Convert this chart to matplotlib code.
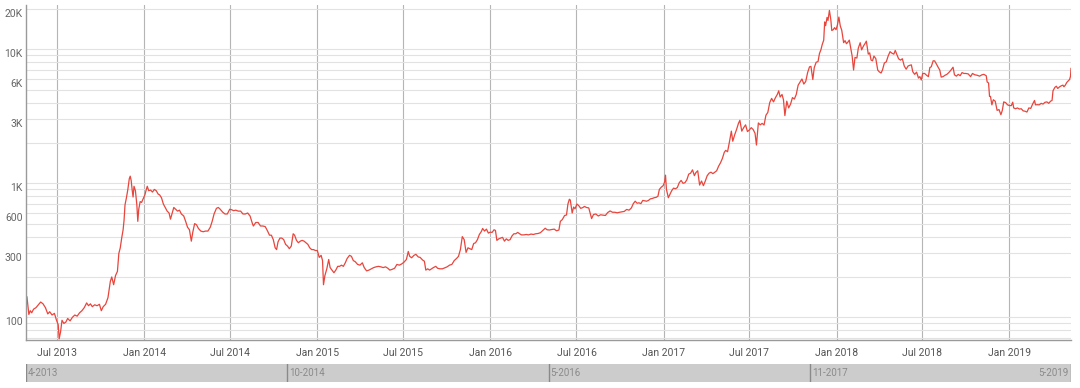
import numpy as np
import pandas as pd
import matplotlib
matplotlib.use("Agg")
import matplotlib.pyplot as plt
import matplotlib.dates as mdates
from matplotlib.ticker import FixedLocator, LogLocator, NullFormatter

plt.rcParams['font.family'] = ['Roboto', 'DejaVu Sans']

# price (USD, log scale)
dates = [
    "2013-04-28", "2013-05-02", "2013-05-05", "2013-05-08", "2013-05-12", "2013-05-17", "2013-05-22", "2013-05-27",
    "2013-06-01", "2013-06-06", "2013-06-11", "2013-06-15", "2013-06-20", "2013-06-25", "2013-06-29", "2013-07-03",
    "2013-07-05", "2013-07-08", "2013-07-11", "2013-07-15", "2013-07-19", "2013-07-23", "2013-07-28", "2013-08-02",
    "2013-08-07", "2013-08-12", "2013-08-17", "2013-08-22", "2013-08-27", "2013-09-01", "2013-09-05", "2013-09-09",
    "2013-09-13", "2013-09-18", "2013-09-23", "2013-09-28", "2013-10-02", "2013-10-06", "2013-10-11", "2013-10-16",
    "2013-10-21", "2013-10-24", "2013-10-28", "2013-11-01", "2013-11-05", "2013-11-08", "2013-11-11", "2013-11-14",
    "2013-11-17", "2013-11-19", "2013-11-21", "2013-11-24", "2013-11-27", "2013-11-30", "2013-12-02", "2013-12-04",
    "2013-12-06", "2013-12-08", "2013-12-10", "2013-12-13", "2013-12-16", "2013-12-18", "2013-12-20", "2013-12-23",
    "2013-12-26", "2013-12-29", "2014-01-02", "2014-01-05", "2014-01-07", "2014-01-10", "2014-01-14", "2014-01-18",
    "2014-01-22", "2014-01-26", "2014-01-30", "2014-02-02", "2014-02-06", "2014-02-10", "2014-02-14", "2014-02-18",
    "2014-02-22", "2014-02-25", "2014-02-28", "2014-03-04", "2014-03-08", "2014-03-12", "2014-03-16", "2014-03-20",
    "2014-03-25", "2014-03-29", "2014-04-02", "2014-04-06", "2014-04-10", "2014-04-13", "2014-04-17", "2014-04-21",
    "2014-04-25", "2014-04-30", "2014-05-05", "2014-05-10", "2014-05-15", "2014-05-20", "2014-05-24", "2014-05-28",
    "2014-06-02", "2014-06-06", "2014-06-10", "2014-06-15", "2014-06-20", "2014-06-25", "2014-06-30", "2014-07-04",
    "2014-07-08", "2014-07-13", "2014-07-18", "2014-07-23", "2014-07-28", "2014-08-02", "2014-08-07", "2014-08-12",
    "2014-08-17", "2014-08-19", "2014-08-24", "2014-08-29", "2014-09-03", "2014-09-08", "2014-09-13", "2014-09-18",
    "2014-09-22", "2014-09-26", "2014-09-30", "2014-10-04", "2014-10-07", "2014-10-10", "2014-10-14", "2014-10-18",
    "2014-10-22", "2014-10-26", "2014-10-30", "2014-11-03", "2014-11-07", "2014-11-11", "2014-11-14", "2014-11-18",
    "2014-11-22", "2014-11-26", "2014-11-30", "2014-12-04", "2014-12-08", "2014-12-12", "2014-12-16", "2014-12-20",
    "2014-12-24", "2014-12-28", "2015-01-01", "2015-01-05", "2015-01-09", "2015-01-12", "2015-01-14", "2015-01-17",
    "2015-01-21", "2015-01-25", "2015-01-28", "2015-02-01", "2015-02-05", "2015-02-09", "2015-02-13", "2015-02-17",
    "2015-02-21", "2015-02-25", "2015-03-01", "2015-03-05", "2015-03-10", "2015-03-14", "2015-03-18", "2015-03-22",
    "2015-03-27", "2015-04-01", "2015-04-06", "2015-04-10", "2015-04-15", "2015-04-20", "2015-04-25", "2015-04-30",
    "2015-05-05", "2015-05-10", "2015-05-15", "2015-05-20", "2015-05-25", "2015-05-30", "2015-06-03", "2015-06-08",
    "2015-06-13", "2015-06-18", "2015-06-23", "2015-06-28", "2015-07-03", "2015-07-08", "2015-07-12", "2015-07-15",
    "2015-07-19", "2015-07-24", "2015-07-28", "2015-08-02", "2015-08-06", "2015-08-11", "2015-08-15", "2015-08-18",
    "2015-08-22", "2015-08-26", "2015-08-30", "2015-09-03", "2015-09-08", "2015-09-12", "2015-09-17", "2015-09-22",
    "2015-09-27", "2015-10-02", "2015-10-07", "2015-10-12", "2015-10-17", "2015-10-22", "2015-10-26", "2015-10-30",
    "2015-11-03", "2015-11-05", "2015-11-07", "2015-11-11", "2015-11-15", "2015-11-19", "2015-11-23", "2015-11-27",
    "2015-12-01", "2015-12-05", "2015-12-09", "2015-12-13", "2015-12-16", "2015-12-20", "2015-12-24", "2015-12-28",
    "2016-01-01", "2016-01-05", "2016-01-09", "2016-01-12", "2016-01-15", "2016-01-19", "2016-01-23", "2016-01-27",
    "2016-01-31", "2016-02-04", "2016-02-08", "2016-02-12", "2016-02-16", "2016-02-20", "2016-02-24", "2016-02-28",
    "2016-03-03", "2016-03-07", "2016-03-12", "2016-03-17", "2016-03-22", "2016-03-27", "2016-04-01", "2016-04-06",
    "2016-04-11", "2016-04-16", "2016-04-21", "2016-04-26", "2016-04-30", "2016-05-05", "2016-05-10", "2016-05-15",
    "2016-05-20", "2016-05-25", "2016-05-28", "2016-06-01", "2016-06-06", "2016-06-10", "2016-06-13", "2016-06-16",
    "2016-06-18", "2016-06-20", "2016-06-22", "2016-06-25", "2016-06-28", "2016-07-02", "2016-07-06", "2016-07-10",
    "2016-07-14", "2016-07-18", "2016-07-22", "2016-07-27", "2016-08-02", "2016-08-06", "2016-08-11", "2016-08-16",
    "2016-08-21", "2016-08-26", "2016-08-31", "2016-09-05", "2016-09-10", "2016-09-15", "2016-09-20", "2016-09-25",
    "2016-09-30", "2016-10-05", "2016-10-10", "2016-10-15", "2016-10-20", "2016-10-25", "2016-10-29", "2016-11-02",
    "2016-11-06", "2016-11-10", "2016-11-14", "2016-11-18", "2016-11-22", "2016-11-26", "2016-11-30", "2016-12-04",
    "2016-12-08", "2016-12-12", "2016-12-16", "2016-12-20", "2016-12-23", "2016-12-27", "2016-12-31", "2017-01-03",
    "2017-01-05", "2017-01-07", "2017-01-11", "2017-01-14", "2017-01-18", "2017-01-22", "2017-01-26", "2017-01-30",
    "2017-02-03", "2017-02-07", "2017-02-11", "2017-02-15", "2017-02-19", "2017-02-23", "2017-02-27", "2017-03-03",
    "2017-03-07", "2017-03-10", "2017-03-14", "2017-03-18", "2017-03-22", "2017-03-26", "2017-03-30", "2017-04-03",
    "2017-04-07", "2017-04-11", "2017-04-15", "2017-04-19", "2017-04-23", "2017-04-27", "2017-05-01", "2017-05-05",
    "2017-05-09", "2017-05-12", "2017-05-16", "2017-05-20", "2017-05-24", "2017-05-27", "2017-05-31", "2017-06-04",
    "2017-06-08", "2017-06-11", "2017-06-15", "2017-06-19", "2017-06-23", "2017-06-27", "2017-07-01", "2017-07-05",
    "2017-07-09", "2017-07-13", "2017-07-16", "2017-07-20", "2017-07-24", "2017-07-28", "2017-08-01", "2017-08-05",
    "2017-08-09", "2017-08-13", "2017-08-17", "2017-08-21", "2017-08-25", "2017-08-29", "2017-09-01", "2017-09-04",
    "2017-09-08", "2017-09-11", "2017-09-14", "2017-09-18", "2017-09-22", "2017-09-26", "2017-09-30", "2017-10-04",
    "2017-10-08", "2017-10-12", "2017-10-16", "2017-10-20", "2017-10-24", "2017-10-28", "2017-11-01", "2017-11-05",
    "2017-11-08", "2017-11-12", "2017-11-15", "2017-11-19", "2017-11-23", "2017-11-26", "2017-11-29", "2017-12-02",
    "2017-12-05", "2017-12-07", "2017-12-09", "2017-12-12", "2017-12-14", "2017-12-17", "2017-12-20", "2017-12-22",
    "2017-12-25", "2017-12-28", "2017-12-31", "2018-01-03", "2018-01-06", "2018-01-09", "2018-01-12", "2018-01-16",
    "2018-01-19", "2018-01-22", "2018-01-25", "2018-01-28", "2018-01-31", "2018-02-03", "2018-02-06", "2018-02-09",
    "2018-02-13", "2018-02-16", "2018-02-20", "2018-02-23", "2018-02-27", "2018-03-02", "2018-03-05", "2018-03-09",
    "2018-03-12", "2018-03-15", "2018-03-18", "2018-03-21", "2018-03-25", "2018-03-29", "2018-04-01", "2018-04-05",
    "2018-04-08", "2018-04-12", "2018-04-16", "2018-04-20", "2018-04-24", "2018-04-28", "2018-05-02", "2018-05-05",
    "2018-05-08", "2018-05-12", "2018-05-16", "2018-05-20", "2018-05-24", "2018-05-28", "2018-06-01", "2018-06-05",
    "2018-06-08", "2018-06-11", "2018-06-15", "2018-06-19", "2018-06-23", "2018-06-26", "2018-06-29", "2018-07-02",
    "2018-07-06", "2018-07-10", "2018-07-14", "2018-07-17", "2018-07-20", "2018-07-24", "2018-07-27", "2018-07-31",
    "2018-08-03", "2018-08-07", "2018-08-10", "2018-08-14", "2018-08-18", "2018-08-22", "2018-08-26", "2018-08-30",
    "2018-09-04", "2018-09-07", "2018-09-11", "2018-09-15", "2018-09-19", "2018-09-23", "2018-09-27", "2018-10-01",
    "2018-10-06", "2018-10-11", "2018-10-15", "2018-10-20", "2018-10-25", "2018-10-30", "2018-11-04", "2018-11-08",
    "2018-11-13", "2018-11-15", "2018-11-18", "2018-11-20", "2018-11-22", "2018-11-25", "2018-11-28", "2018-12-02",
    "2018-12-06", "2018-12-10", "2018-12-14", "2018-12-17", "2018-12-20", "2018-12-24", "2018-12-28", "2019-01-01",
    "2019-01-05", "2019-01-08", "2019-01-10", "2019-01-14", "2019-01-18", "2019-01-22", "2019-01-26", "2019-01-30",
    "2019-02-03", "2019-02-07", "2019-02-11", "2019-02-15", "2019-02-19", "2019-02-23", "2019-02-25", "2019-03-01",
    "2019-03-05", "2019-03-09", "2019-03-13", "2019-03-17", "2019-03-21", "2019-03-25", "2019-03-29", "2019-04-01",
    "2019-04-03", "2019-04-07", "2019-04-10", "2019-04-13", "2019-04-17", "2019-04-21", "2019-04-24", "2019-04-26",
    "2019-04-29", "2019-05-02", "2019-05-05", "2019-05-08", "2019-05-10", "2019-05-11",
]
prices = [
    142, 105, 112, 108, 115, 118, 124, 130,
    126, 118, 106, 110, 104, 107, 96, 88,
    69, 78, 95, 90, 92, 98, 94, 100,
    104, 102, 108, 112, 118, 128, 122, 126,
    120, 124, 122, 125, 112, 120, 125, 140,
    185, 200, 175, 205, 220, 300, 330, 390,
    450, 530, 690, 780, 900, 1080, 1130, 1050,
    900, 790, 950, 880, 690, 520, 640, 730,
    720, 760, 820, 900, 950, 880, 890, 860,
    900, 880, 830, 820, 780, 700, 660, 620,
    600, 540, 590, 660, 640, 620, 630, 590,
    570, 520, 470, 450, 370, 430, 500, 490,
    460, 440, 435, 440, 440, 470, 520, 590,
    650, 660, 640, 610, 590, 590, 640, 635,
    625, 630, 620, 620, 590, 590, 600, 570,
    500, 480, 510, 510, 480, 480, 475, 440,
    410, 410, 380, 330, 320, 365, 390, 390,
    380, 350, 340, 325, 340, 420, 410, 375,
    360, 370, 375, 370, 360, 350, 330, 320,
    320, 315, 315, 280, 290, 265, 175, 205,
    230, 270, 235, 225, 215, 225, 240, 240,
    245, 240, 255, 275, 290, 285, 265, 260,
    248, 245, 255, 235, 222, 225, 230, 235,
    238, 240, 238, 235, 238, 232, 225, 228,
    232, 248, 245, 250, 258, 270, 310, 285,
    278, 290, 295, 282, 280, 268, 262, 225,
    230, 225, 230, 235, 240, 232, 230, 230,
    234, 238, 245, 248, 265, 275, 285, 320,
    400, 390, 380, 305, 330, 325, 320, 355,
    360, 380, 415, 435, 460, 440, 455, 425,
    432, 430, 450, 445, 375, 385, 390, 395,
    370, 385, 375, 380, 405, 420, 420, 430,
    420, 412, 412, 415, 412, 418, 415, 420,
    422, 428, 445, 462, 450, 448, 452, 455,
    442, 448, 520, 535, 575, 580, 700, 760,
    750, 670, 600, 665, 645, 700, 680, 650,
    658, 672, 660, 655, 545, 585, 590, 570,
    582, 578, 575, 605, 622, 608, 608, 602,
    608, 612, 617, 638, 630, 655, 705, 735,
    710, 715, 705, 745, 740, 735, 745, 765,
    770, 780, 785, 800, 900, 935, 960, 1020,
    1150, 900, 780, 820, 880, 920, 910, 930,
    1010, 1050, 1000, 1010, 1060, 1170, 1190, 1260,
    1140, 1200, 1240, 970, 1040, 960, 1040, 1140,
    1190, 1210, 1180, 1210, 1240, 1340, 1420, 1530,
    1700, 1760, 1720, 2040, 2450, 2060, 2300, 2520,
    2800, 2950, 2450, 2600, 2730, 2430, 2500, 2600,
    2520, 2360, 1930, 2820, 2730, 2800, 2720, 3220,
    3380, 4000, 4300, 4050, 4350, 4600, 4900, 4400,
    4600, 4200, 3200, 4100, 3650, 3900, 4360, 4250,
    4600, 5400, 5700, 6000, 5500, 5750, 6700, 7400,
    7450, 5950, 7300, 8000, 8100, 9300, 9900, 10900,
    11700, 16000, 15000, 17300, 16400, 19500, 16600, 13800,
    14000, 14500, 14000, 15200, 17400, 14900, 13900, 11200,
    11600, 11000, 11300, 11700, 10200, 8900, 7000, 8700,
    8600, 10200, 11200, 9900, 10600, 11000, 11500, 9200,
    9400, 8300, 8200, 8900, 8500, 7000, 6800, 6650,
    7000, 7900, 8050, 8900, 9600, 9350, 9200, 9800,
    9200, 8500, 8300, 8500, 7500, 7100, 7500, 7600,
    7650, 6800, 6500, 6750, 6100, 6250, 5900, 6600,
    6600, 6400, 6250, 7300, 7400, 8200, 8200, 7750,
    7400, 7000, 6200, 6250, 6400, 6500, 6700, 6950,
    7350, 6450, 6300, 6500, 6350, 6700, 6600, 6600,
    6550, 6250, 6600, 6450, 6400, 6300, 6450, 6500,
    6350, 5700, 5600, 4450, 4450, 3850, 4200, 4100,
    3500, 3550, 3250, 3500, 4050, 4000, 3850, 3800,
    3800, 4030, 3650, 3600, 3650, 3580, 3600, 3470,
    3450, 3400, 3650, 3620, 3900, 4150, 3850, 3860,
    3850, 3950, 3900, 4020, 4050, 3950, 4100, 4150,
    4900, 5200, 5300, 5100, 5250, 5350, 5400, 5250,
    5400, 5650, 5800, 5950, 6300, 7200,
]

y_ticks = [100, 300, 600, 1000, 3000, 6000, 10000, 20000]
y_labels = ["100", "300", "600", "1K", "3K", "6K", "10K", "20K"]
nav_labels = ["4-2013", "10-2014", "5-2016", "11-2017", "5-2019"]

df = pd.DataFrame({"date": pd.to_datetime(dates), "price": prices})

W, H = 1080, 388
fig = plt.figure(figsize=(W / 100, H / 100), dpi=100)
ax = fig.add_axes([26 / W, 1 - 340 / H, 1045 / W, 335 / H])

ax.plot(df["date"], df["price"], color="#e8453c", lw=0.9)

ax.set_yscale("log")
ax.set_ylim(67.7, 21400)
ax.set_xlim(pd.Timestamp("2013-04-26"), pd.Timestamp("2019-05-11"))

# y grid: every 1..9 multiple, labels drawn by hand a little below the line
ax.yaxis.set_major_locator(FixedLocator(y_ticks))
ax.yaxis.set_minor_locator(LogLocator(base=10, subs=np.arange(1, 10)))
ax.yaxis.set_major_formatter(NullFormatter())
ax.yaxis.set_minor_formatter(NullFormatter())
ax.grid(which="both", axis="y", color="#e2e2e2", lw=0.8)
for v, lab in zip(y_ticks, y_labels):
    ax.annotate(lab, xy=(0, v), xycoords=("axes fraction", "data"),
                xytext=(-2.5, -3.6), textcoords="offset points",
                ha="right", va="center", fontsize=7.5, color="#666666")

ax.xaxis.set_major_locator(mdates.MonthLocator(bymonth=[1, 7]))
ax.xaxis.set_major_formatter(mdates.DateFormatter("%b %Y"))
ax.grid(which="major", axis="x", color="#b5b5b5", lw=0.8)
ax.tick_params(axis="both", which="both", length=0)
ax.tick_params(axis="x", pad=6, labelsize=7.5, labelcolor="#555555")
ax.set_axisbelow(True)

for s in ["top", "right"]:
    ax.spines[s].set_visible(False)
for s in ["left", "bottom"]:
    ax.spines[s].set_color("#9a9a9a")
    ax.spines[s].set_linewidth(1.0)

# range navigator strip
nav = fig.add_axes([26 / W, 1 - 382 / H, 1045 / W, 18 / H])
nav.set_facecolor("#cccccc")
nav.set_xlim(0, 1)
nav.set_ylim(0, 1)
nav.set_xticks([])
nav.set_yticks([])
for s in nav.spines.values():
    s.set_visible(False)
for i, lab in enumerate(nav_labels[:-1]):
    xf = i * 0.25
    nav.axvline(xf, color="#8a8a8a", lw=1.0)
    nav.text(xf + 0.002, 0.5, lab, ha="left", va="center", fontsize=7, color="#8a8a8a")
nav.axvline(1.0, color="#8a8a8a", lw=1.0)
nav.text(0.998, 0.5, nav_labels[-1], ha="right", va="center", fontsize=7, color="#8a8a8a")

fig.savefig("out.png", dpi=100)
